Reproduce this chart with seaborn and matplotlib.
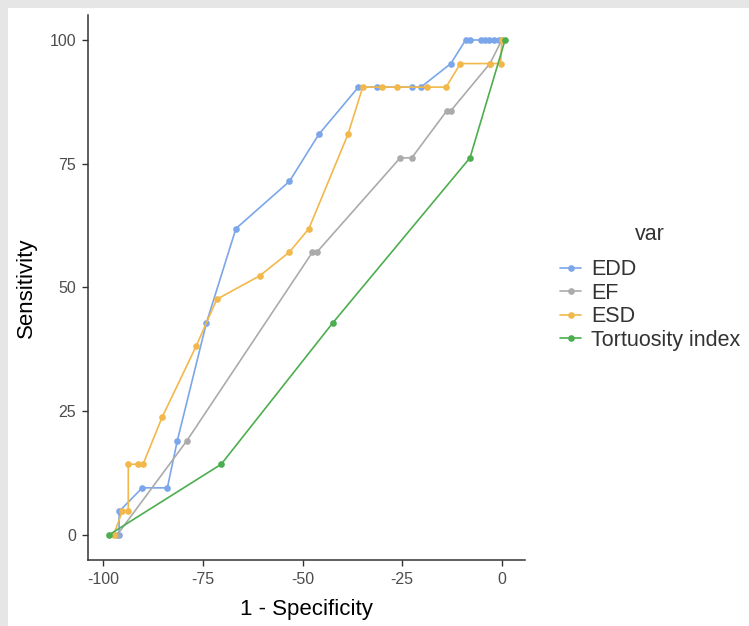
import numpy as np
import pandas as pd

import matplotlib.pyplot as plt
import seaborn as sns

# ROC curves, values
edd_x = [-96, -96, -90.2, -83.9, -81.4, -74.1, -66.7, -53.3, -45.9, -36.0, -31.2,
         -22.6, -20.3, -12.8, -9.1, -8.0, -5.3, -4.3, -3.2, -2.0, -0.7]
edd_y = [0, 4.76, 9.52, 9.52, 19.05, 42.86, 61.9, 71.43, 80.95, 90.48, 90.48,
         90.48, 90.48, 95.24, 100, 100, 100, 100, 100, 100, 100]

ef_x = [-96.5, -79.0, -47.5, -46.4, -25.5, -22.6, -13.8, -12.8, -3.0, 0]
ef_y = [0, 19.05, 57.14, 57.14, 76.19, 76.19, 85.71, 85.71, 95.24, 100]

esd_x = [-97.4, -95.2, -93.7, -93.7, -91.2, -90.0, -85.2, -76.7, -71.5, -60.7, -53.3,
         -48.4, -38.6, -34.9, -30.0, -26.3, -18.9, -14.0, -10.4, -3.0, -0.3, 0]
esd_y = [0, 4.76, 4.76, 14.29, 14.29, 14.29, 23.81, 38.1, 47.62, 52.38, 57.14,
         61.9, 80.95, 90.48, 90.48, 90.48, 90.48, 90.48, 95.24, 95.24, 95.24, 100]

tort_x = [-98.6, -70.4, -42.4, -8.0, 0.8]
tort_y = [0, 14.29, 42.86, 76.19, 100]

series = ["EDD", "EF", "ESD", "Tortuosity index"]
colors = ["#7ba6ea", "#ababab", "#f2b84b", "#4cae4f"]

x_ticks = [-100, -75, -50, -25, 0]
y_ticks = [0, 25, 50, 75, 100]

frames = []
for name, xs, ys in zip(series, [edd_x, ef_x, esd_x, tort_x], [edd_y, ef_y, esd_y, tort_y]):
    frames.append(pd.DataFrame({"spec": xs, "sens": ys, "var": name}))
df = pd.concat(frames, ignore_index=True)

sns.set_style("white")
plt.rcParams["font.family"] = ["Liberation Sans", "DejaVu Sans"]

fig = plt.figure(figsize=(7.49, 6.26), dpi=100, facecolor="#e6e6e6")
# white panel, gray strip on left and top like the screenshot
fig.patches.append(plt.Rectangle((8 / 749, 0), 1, 1 - 8 / 626, transform=fig.transFigure,
                                 facecolor="white", edgecolor="none", zorder=-10))

ax = fig.add_axes([88 / 749, 1 - 560 / 626, 437 / 749, 545 / 626])
ax.set_facecolor("white")

sns.lineplot(data=df, x="spec", y="sens", hue="var", hue_order=series,
             palette=dict(zip(series, colors)), sort=False, estimator=None,
             marker="o", markersize=4.8, markeredgewidth=0, linewidth=1.2, ax=ax)

ax.set_xlim(-103.8, 5.8)
ax.set_ylim(-5.05, 105.05)
ax.set_xticks(x_ticks)
ax.set_yticks(y_ticks)
ax.set_xticklabels([str(t) for t in x_ticks])
ax.set_yticklabels([str(t) for t in y_ticks])
ax.tick_params(axis="both", length=4.5, width=1, color="#333333", labelcolor="#4d4d4d",
               labelsize=11.5, pad=4, direction="out", bottom=True, left=True)

for side in ["top", "right"]:
    ax.spines[side].set_visible(False)
for side in ["left", "bottom"]:
    ax.spines[side].set_color("#333333")
    ax.spines[side].set_linewidth(1.1)

ax.set_xlabel("1 - Specificity", fontsize=16, color="black", labelpad=9)
ax.set_ylabel("Sensitivity", fontsize=16, color="black", labelpad=9)

sns.move_legend(ax, loc="center left", bbox_to_anchor=(1.06, 0.5), frameon=False,
                title="var", fontsize=15.5, title_fontsize=15.5, handlelength=1.0,
                handletextpad=0.45, labelspacing=0.12, borderaxespad=0)
leg = ax.get_legend()
leg.get_title().set_color("#333333")
leg._legend_box.sep = 10
for t in leg.get_texts():
    t.set_color("#333333")

fig.savefig("out.png", dpi=100, facecolor=fig.get_facecolor())
